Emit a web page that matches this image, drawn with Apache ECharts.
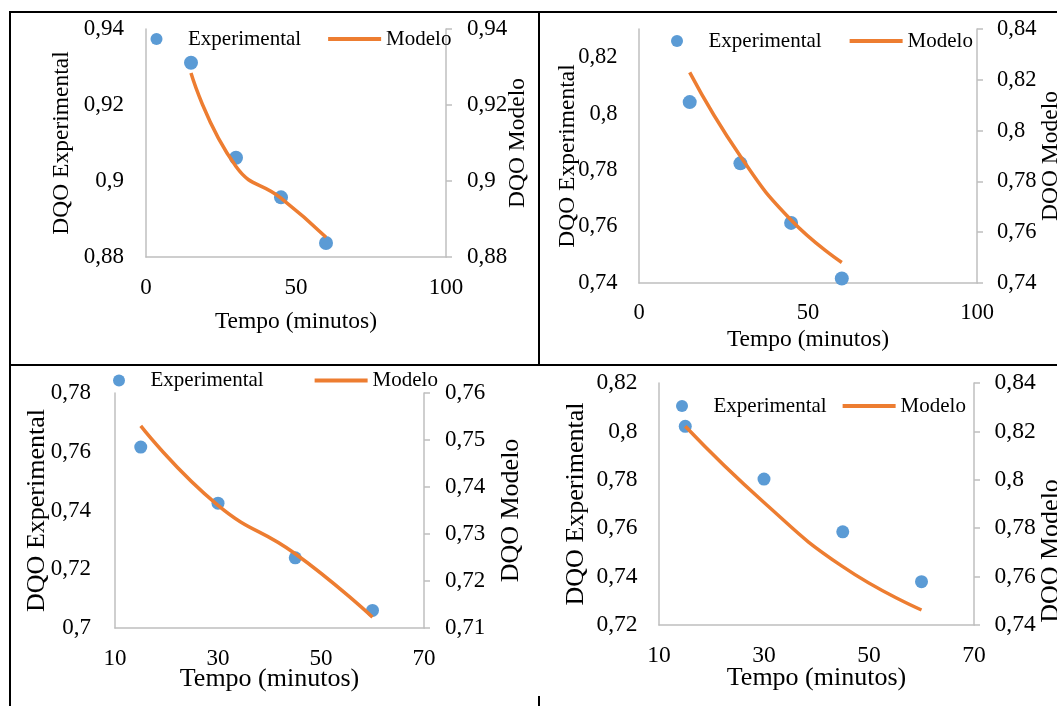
<!DOCTYPE html>
<html>
<head>
<meta charset="utf-8">
<script src="https://cdn.jsdelivr.net/npm/echarts@6/dist/echarts.min.js"></script>
<style>
  html, body { margin: 0; padding: 0; background: #fff; }
  #chart { width: 1057px; height: 706px; }
</style>
</head>
<body>
<div id="chart"></div>
<script>
// Tempo de coleta (minutos)
const tempo = [15, 30, 45, 60];

// Ensaio A
const expA = [0.9311, 0.9061, 0.8957, 0.8837];
const modA = [0.9284, 0.9038, 0.8955, 0.8852];
// Ensaio B
const expB = [0.8041, 0.7824, 0.7613, 0.7416];
const modB = [0.8229, 0.7899, 0.7648, 0.7481];
// Ensaio C
const expC = [0.7616, 0.7425, 0.7239, 0.7060];
const modC = [0.7530, 0.7361, 0.7258, 0.7123];
// Ensaio D
const expD = [0.8021, 0.7803, 0.7585, 0.7379];
const modD = [0.8221, 0.7906, 0.7641, 0.7462];

// Marcas dos eixos
const xTicksAB = [0, 50, 100];
const xTicksCD = [10, 30, 50, 70];
const yLeftA = [0.88, 0.90, 0.92, 0.94];
const yRightA = [0.88, 0.90, 0.92, 0.94];
const yLeftB = [0.74, 0.76, 0.78, 0.80, 0.82];
const yLeftBTop = 0.83;
const yRightB = [0.74, 0.76, 0.78, 0.80, 0.82, 0.84];
const yLeftC = [0.70, 0.72, 0.74, 0.76, 0.78];
const yRightC = [0.71, 0.72, 0.73, 0.74, 0.75, 0.76];
const yLeftD = [0.72, 0.74, 0.76, 0.78, 0.80, 0.82];
const yRightD = [0.74, 0.76, 0.78, 0.80, 0.82, 0.84];

const FONT = '"Liberation Serif", "Times New Roman", serif';
const AXIS_GRAY = '#BFBFBF';
const BLUE = '#5B9BD5';
const ORANGE = '#ED7D31';
const fmt = v => String(Math.round(v * 100) / 100).replace('.', ',');
const last = a => a[a.length - 1];

// Layout of each small chart inside the table
const panels = [
  { exp: expA, mod: modA, xTicks: xTicksAB, yL: yLeftA, yLMax: last(yLeftA), yR: yRightA,
    grid: { left: 146, top: 29, width: 300, height: 228 },
    tick: 23, title: 23.5, dot: 14, xLabelMargin: 19, xNameGap: 53,
    yLMargin: 22, yLNameGap: 72, yRMargin: 21, yRNameGap: 60, yRNamePad: 0,
    legend: { left: 150.5, top: 28.5, gap: 27 } },
  { exp: expB, mod: modB, xTicks: xTicksAB, yL: yLeftB, yLMax: yLeftBTop, yR: yRightB,
    grid: { left: 639, top: 29, width: 338, height: 254 },
    tick: 22.5, title: 23.5, dot: 14, xLabelMargin: 19, xNameGap: 45,
    yLMargin: 21.5, yLNameGap: 59, yRMargin: 20, yRNameGap: 62, yRNamePad: 0,
    legend: { left: 671, top: 30.5, gap: 28 } },
  { exp: expC, mod: modC, xTicks: xTicksCD, yL: yLeftC, yLMax: last(yLeftC), yR: yRightC,
    grid: { left: 115, top: 393, width: 309, height: 235 },
    tick: 23, title: 26, dot: 13, xLabelMargin: 19, xNameGap: 38,
    yLMargin: 24, yLNameGap: 65, yRMargin: 21, yRNameGap: 74, yRNamePad: 0,
    legend: { left: 113, top: 370, gap: 51 } },
  { exp: expD, mod: modD, xTicks: xTicksCD, yL: yLeftD, yLMax: last(yLeftD), yR: yRightD,
    grid: { left: 659, top: 383, width: 315, height: 242 },
    tick: 23.5, title: 26, dot: 13, xLabelMargin: 19, xNameGap: 40,
    yLMargin: 21.5, yLNameGap: 70, yRMargin: 20.5, yRNameGap: 64, yRNamePad: 94,
    legend: { left: 676, top: 395.5, gap: 16 } }
];

const option = {
  animation: false,
  backgroundColor: '#fff',
  grid: [], xAxis: [], yAxis: [], series: [], legend: [],
  graphic: [
    // table borders
    { type: 'line', shape: { x1: 9, y1: 12, x2: 1057, y2: 12 }, style: { stroke: '#000', lineWidth: 2 } },
    { type: 'line', shape: { x1: 9, y1: 365, x2: 1057, y2: 365 }, style: { stroke: '#000', lineWidth: 2 } },
    { type: 'line', shape: { x1: 10, y1: 11, x2: 10, y2: 706 }, style: { stroke: '#000', lineWidth: 2 } },
    { type: 'line', shape: { x1: 539, y1: 11, x2: 539, y2: 366 }, style: { stroke: '#000', lineWidth: 2 } },
    { type: 'line', shape: { x1: 539, y1: 696, x2: 539, y2: 706 }, style: { stroke: '#000', lineWidth: 2 } }
  ]
};

panels.forEach((p, i) => {
  const labelStyle = { fontFamily: FONT, fontSize: p.tick, color: '#000' };
  const nameStyle = { fontFamily: FONT, fontSize: p.title, color: '#000' };
  const axisLine = { show: true, onZero: false, lineStyle: { color: AXIS_GRAY, width: 1.5 } };

  option.grid.push(Object.assign({ outerBoundsMode: 'none', containLabel: false }, p.grid));

  option.xAxis.push({
    type: 'value', gridIndex: i,
    min: p.xTicks[0], max: last(p.xTicks),
    name: 'Tempo (minutos)', nameLocation: 'middle', nameGap: p.xNameGap, nameMoveOverlap: false,
    nameTextStyle: nameStyle,
    axisLine: axisLine, axisTick: { show: false }, splitLine: { show: false },
    axisLabel: Object.assign({ customValues: p.xTicks, margin: p.xLabelMargin, formatter: v => String(v) }, labelStyle)
  });

  option.yAxis.push({
    type: 'value', gridIndex: i, position: 'left',
    min: p.yL[0], max: p.yLMax,
    name: 'DQO Experimental', nameLocation: 'middle', nameGap: p.yLNameGap, nameMoveOverlap: false,
    nameTextStyle: nameStyle,
    axisLine: axisLine, axisTick: { show: false }, splitLine: { show: false },
    axisLabel: Object.assign({ customValues: p.yL, margin: p.yLMargin, formatter: fmt }, labelStyle)
  });

  option.yAxis.push({
    type: 'value', gridIndex: i, position: 'right',
    min: p.yR[0], max: last(p.yR),
    name: 'DQO Modelo', nameLocation: 'middle', nameGap: p.yRNameGap, nameMoveOverlap: false,
    nameTextStyle: Object.assign({ padding: [0, p.yRNamePad, 0, 0] }, nameStyle),
    axisLine: axisLine,
    axisTick: { show: true, inside: false, length: 6, customValues: p.yR, lineStyle: { color: AXIS_GRAY, width: 1.5 } },
    splitLine: { show: false },
    axisLabel: Object.assign({ customValues: p.yR, margin: p.yRMargin, formatter: fmt }, labelStyle)
  });

  option.series.push({
    type: 'scatter', name: 'Experimental',
    xAxisIndex: i, yAxisIndex: 2 * i,
    data: tempo.map((t, k) => [t, p.exp[k]]),
    symbol: 'circle', symbolSize: p.dot,
    itemStyle: { color: BLUE, opacity: 1 }, z: 2
  });

  option.series.push({
    type: 'line', name: 'Modelo',
    xAxisIndex: i, yAxisIndex: 2 * i + 1,
    data: tempo.map((t, k) => [t, p.mod[k]]),
    smooth: 0.5, symbol: 'none',
    lineStyle: { color: ORANGE, width: 3.5 },
    itemStyle: { color: ORANGE }, z: 3
  });

  option.legend.push({
    left: p.legend.left, top: p.legend.top, padding: 0,
    itemGap: p.legend.gap, itemWidth: 53, itemHeight: 12,
    selectedMode: false,
    textStyle: { fontFamily: FONT, fontSize: 21, color: '#000' },
    data: [
      { name: 'Experimental', icon: 'circle' },
      { name: 'Modelo', icon: 'path://M0,0H53V4H0Z' }
    ]
  });
});

const chart = echarts.init(document.getElementById('chart'), null, { renderer: 'canvas' });
chart.setOption(option);
</script>
</body>
</html>
